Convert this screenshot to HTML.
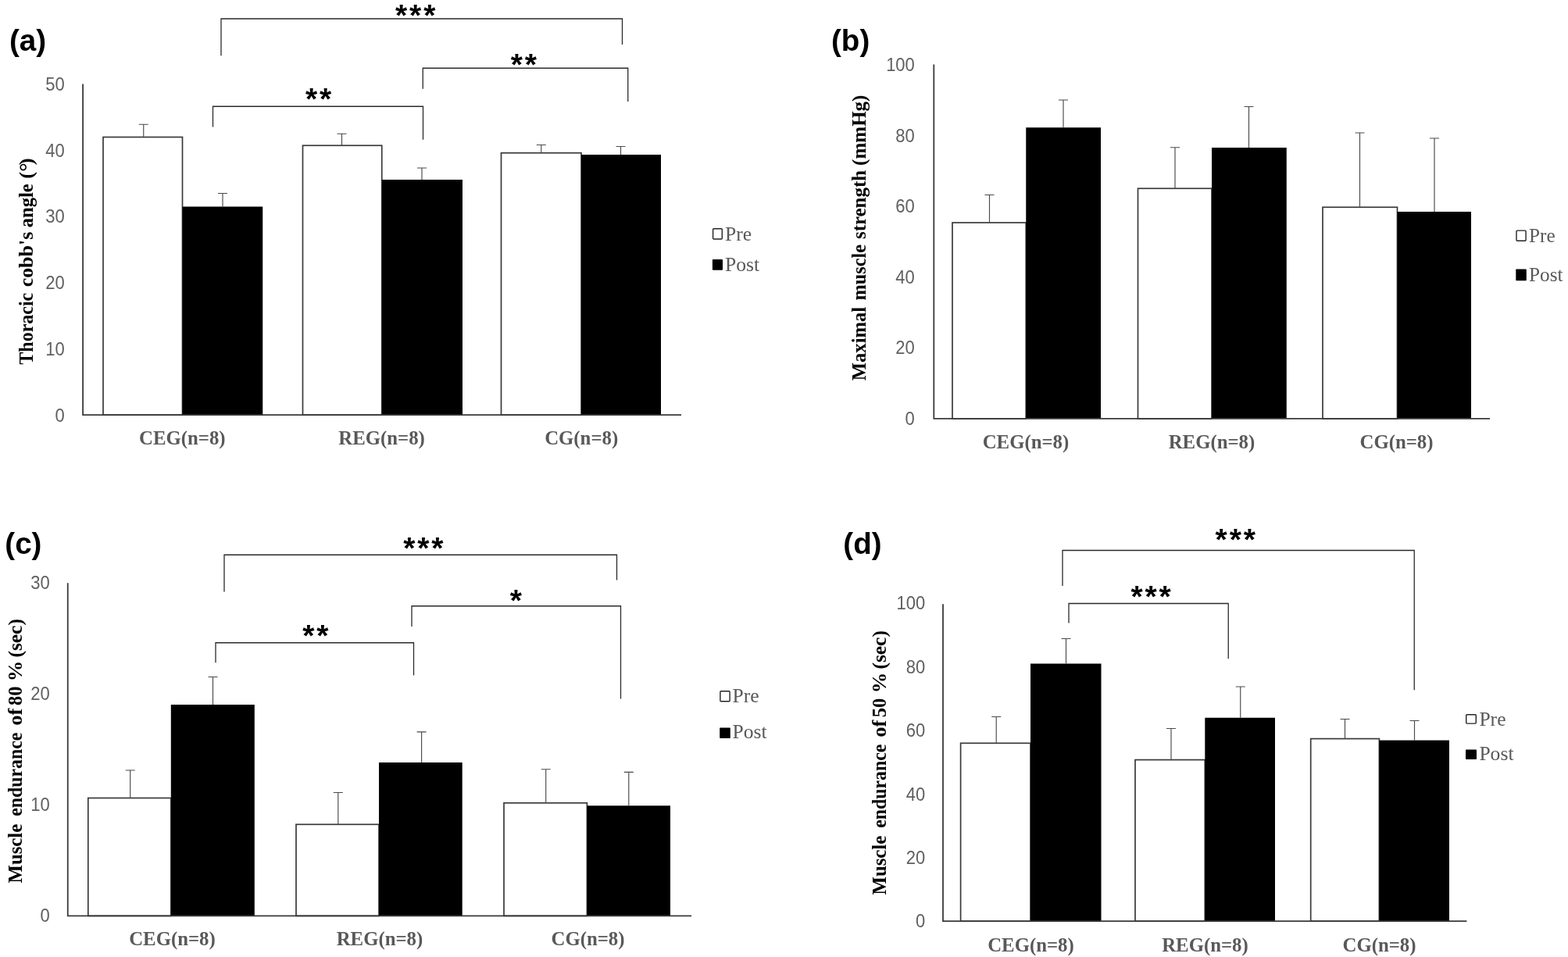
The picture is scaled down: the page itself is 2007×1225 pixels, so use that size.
<!DOCTYPE html>
<html lang="en">
<head>
<meta charset="utf-8">
<title>Figure: pre/post comparison of CEG, REG and CG groups</title>
<style>
html,body{margin:0;padding:0;background:#fff;}
body{width:2007px;height:1225px;overflow:hidden;}
svg{display:block;}
text{white-space:pre;}
.tk{font-family:"Liberation Sans",sans-serif;font-size:24.3px;fill:#606060;}
.cat{font-family:"Liberation Serif",serif;font-weight:bold;font-size:24.8px;fill:#595959;}
.yt{font-family:"Liberation Serif",serif;font-weight:bold;font-size:24.6px;fill:#000;}
.dg{font-family:"Liberation Sans",sans-serif;font-weight:normal;}
.lg{font-family:"Liberation Serif",serif;fill:#595959;}
.pl{font-family:"Liberation Sans",sans-serif;font-weight:bold;font-size:38.6px;fill:#000;}
.st{font-family:"Liberation Sans",sans-serif;font-weight:bold;font-size:39px;letter-spacing:2.9px;fill:#000;}
</style>
</head>
<body>
<svg width="2007" height="1225" viewBox="0 0 2007 1225">
<rect width="2007" height="1225" fill="#fff"/>
<g id="panel-a">
<rect x="132" y="175.5" width="101.5" height="355.7" fill="#fff" stroke="#3a3a3a" stroke-width="1.7"/>
<rect x="233.5" y="264.5" width="102.75" height="266.7" fill="#000"/>
<rect x="387.5" y="186.25" width="101.25" height="344.95" fill="#fff" stroke="#3a3a3a" stroke-width="1.7"/>
<rect x="488.75" y="230" width="103.25" height="301.2" fill="#000"/>
<rect x="641.5" y="195.75" width="102.5" height="335.45" fill="#fff" stroke="#3a3a3a" stroke-width="1.7"/>
<rect x="744" y="198" width="102" height="333.2" fill="#000"/>
<path d="M183.75 175.5V159.25M177.75 159.25H189.75" fill="none" stroke="#4a4a4a" stroke-width="1.15"/>
<path d="M285 264.5V247.5M279 247.5H291" fill="none" stroke="#4a4a4a" stroke-width="1.15"/>
<path d="M437.5 186.25V171.25M431.5 171.25H443.5" fill="none" stroke="#4a4a4a" stroke-width="1.15"/>
<path d="M540 230V215M534 215H546" fill="none" stroke="#4a4a4a" stroke-width="1.15"/>
<path d="M692.75 195.75V185.5M686.75 185.5H698.75" fill="none" stroke="#4a4a4a" stroke-width="1.15"/>
<path d="M794.5 198V187.5M788.5 187.5H800.5" fill="none" stroke="#4a4a4a" stroke-width="1.15"/>
<path d="M106.1 107.5V531.2H872" fill="none" stroke="#3a3a3a" stroke-width="1.8"/>
<text class="tk" transform="translate(82.8 115.7) scale(0.905 1)" text-anchor="end">50</text>
<text class="tk" transform="translate(82.8 200.5) scale(0.905 1)" text-anchor="end">40</text>
<text class="tk" transform="translate(82.8 285.4) scale(0.905 1)" text-anchor="end">30</text>
<text class="tk" transform="translate(82.8 370.2) scale(0.905 1)" text-anchor="end">20</text>
<text class="tk" transform="translate(82.8 455.1) scale(0.905 1)" text-anchor="end">10</text>
<text class="tk" transform="translate(82.8 539.9) scale(0.905 1)" text-anchor="end">0</text>
<text class="cat" x="233.3" y="569" text-anchor="middle">CEG(n=8)</text>
<text class="cat" x="488.6" y="569" text-anchor="middle">REG(n=8)</text>
<text class="cat" x="744.2" y="569" text-anchor="middle">CG(n=8)</text>
<text class="yt" transform="translate(42.2 0) rotate(-90)"><tspan x="-466.74" textLength="92.01" lengthAdjust="spacingAndGlyphs">Thoracic</tspan> <tspan x="-367.38" textLength="70.68" lengthAdjust="spacingAndGlyphs">cobb&#39;s</tspan> <tspan x="-291.24" textLength="56.02" lengthAdjust="spacingAndGlyphs">angle</tspan> <tspan x="-228.65" textLength="8.85" lengthAdjust="spacingAndGlyphs">(</tspan><tspan class="dg" font-size="31" x="-220.25" dy="4.5">&#176;</tspan><tspan x="-211.3" dy="-4.5" textLength="8.84" lengthAdjust="spacingAndGlyphs">)</tspan></text>
<text class="pl" x="12" y="64.6">(a)</text>
<path d="M283 71.25V24H796.5V57" fill="none" stroke="#2a2a2a" stroke-width="1.3"/>
<path d="M272.5 162.5V136.25H541.5V178.75" fill="none" stroke="#2a2a2a" stroke-width="1.3"/>
<path d="M541.25 113.75V87.25H803.75V130" fill="none" stroke="#2a2a2a" stroke-width="1.3"/>
<text class="st" x="506" y="33.3">***</text>
<text class="st" x="391" y="140.2">**</text>
<text class="st" x="653.7" y="95.7">**</text>
<rect x="912.6" y="292.8" width="11.7" height="13.2" rx="1" fill="#fff" stroke="#222" stroke-width="1.4"/>
<text class="lg" font-size="25.6" x="928" y="307.5">Pre</text>
<rect x="911.9" y="331.9" width="13.1" height="13.8" rx="0.8" fill="#000"/>
<text class="lg" font-size="25.6" x="928" y="346.8">Post</text>
</g>
<g id="panel-b">
<rect x="1219" y="285" width="94.25" height="250.9" fill="#fff" stroke="#3a3a3a" stroke-width="1.7"/>
<rect x="1313.25" y="163.25" width="95.75" height="372.65" fill="#000"/>
<rect x="1456.5" y="241.25" width="94.5" height="294.65" fill="#fff" stroke="#3a3a3a" stroke-width="1.7"/>
<rect x="1551" y="189" width="95.75" height="346.9" fill="#000"/>
<rect x="1693" y="265.25" width="95.5" height="270.65" fill="#fff" stroke="#3a3a3a" stroke-width="1.7"/>
<rect x="1788.5" y="271" width="94.5" height="264.9" fill="#000"/>
<path d="M1266.5 285V249.5M1260.5 249.5H1272.5" fill="none" stroke="#4a4a4a" stroke-width="1.15"/>
<path d="M1361 163.25V128M1355 128H1367" fill="none" stroke="#4a4a4a" stroke-width="1.15"/>
<path d="M1504 241.25V188.75M1498 188.75H1510" fill="none" stroke="#4a4a4a" stroke-width="1.15"/>
<path d="M1598.5 189V136.5M1592.5 136.5H1604.5" fill="none" stroke="#4a4a4a" stroke-width="1.15"/>
<path d="M1740.5 265.25V170M1734.5 170H1746.5" fill="none" stroke="#4a4a4a" stroke-width="1.15"/>
<path d="M1836 271V177M1830 177H1842" fill="none" stroke="#4a4a4a" stroke-width="1.15"/>
<path d="M1195.3 82.5V535.9H1907" fill="none" stroke="#3a3a3a" stroke-width="1.8"/>
<text class="tk" transform="translate(1170.8 90.9) scale(0.905 1)" text-anchor="end">100</text>
<text class="tk" transform="translate(1170.8 181.5) scale(0.905 1)" text-anchor="end">80</text>
<text class="tk" transform="translate(1170.8 272.1) scale(0.905 1)" text-anchor="end">60</text>
<text class="tk" transform="translate(1170.8 362.7) scale(0.905 1)" text-anchor="end">40</text>
<text class="tk" transform="translate(1170.8 453.3) scale(0.905 1)" text-anchor="end">20</text>
<text class="tk" transform="translate(1170.8 543.9) scale(0.905 1)" text-anchor="end">0</text>
<text class="cat" x="1313" y="574" text-anchor="middle">CEG(n=8)</text>
<text class="cat" x="1551" y="574" text-anchor="middle">REG(n=8)</text>
<text class="cat" x="1787.5" y="574" text-anchor="middle">CG(n=8)</text>
<text class="yt" transform="translate(1107.5 0) rotate(-90)"><tspan x="-487.15" textLength="94.24" lengthAdjust="spacingAndGlyphs">Maximal</tspan> <tspan x="-384.39" textLength="71.46" lengthAdjust="spacingAndGlyphs">muscle</tspan> <tspan x="-306.05" textLength="88.1" lengthAdjust="spacingAndGlyphs">strength</tspan> <tspan x="-211.9" textLength="90.33" lengthAdjust="spacingAndGlyphs">(mmHg)</tspan></text>
<text class="pl" x="1064" y="64.6">(b)</text>
<rect x="1941" y="295.1" width="12.1" height="13.2" rx="1" fill="#fff" stroke="#222" stroke-width="1.4"/>
<text class="lg" font-size="25.3" x="1957" y="309.8">Pre</text>
<rect x="1940.3" y="344.5" width="13.5" height="14.7" rx="0.8" fill="#000"/>
<text class="lg" font-size="25.3" x="1957" y="359.5">Post</text>
</g>
<g id="panel-c">
<rect x="112.8" y="1021.5" width="106" height="150.9" fill="#fff" stroke="#3a3a3a" stroke-width="1.7"/>
<rect x="218.8" y="902" width="107" height="270.4" fill="#000"/>
<rect x="379" y="1055.3" width="106" height="117.1" fill="#fff" stroke="#3a3a3a" stroke-width="1.7"/>
<rect x="485" y="976" width="106.7" height="196.4" fill="#000"/>
<rect x="645" y="1027.8" width="106.4" height="144.6" fill="#fff" stroke="#3a3a3a" stroke-width="1.7"/>
<rect x="751.4" y="1031.3" width="106.6" height="141.1" fill="#000"/>
<path d="M166.7 1021.5V986M160.7 986H172.7" fill="none" stroke="#4a4a4a" stroke-width="1.15"/>
<path d="M272.5 902V866.5M266.5 866.5H278.5" fill="none" stroke="#4a4a4a" stroke-width="1.15"/>
<path d="M432.8 1055.3V1014.5M426.8 1014.5H438.8" fill="none" stroke="#4a4a4a" stroke-width="1.15"/>
<path d="M539.6 976V936.8M533.6 936.8H545.6" fill="none" stroke="#4a4a4a" stroke-width="1.15"/>
<path d="M698.7 1027.8V984.7M692.7 984.7H704.7" fill="none" stroke="#4a4a4a" stroke-width="1.15"/>
<path d="M804.8 1031.3V988.4M798.8 988.4H810.8" fill="none" stroke="#4a4a4a" stroke-width="1.15"/>
<path d="M86.75 746.25V1172.4H885" fill="none" stroke="#3a3a3a" stroke-width="1.8"/>
<text class="tk" transform="translate(63.8 754.4) scale(0.905 1)" text-anchor="end">30</text>
<text class="tk" transform="translate(63.8 896.3) scale(0.905 1)" text-anchor="end">20</text>
<text class="tk" transform="translate(63.8 1038.1) scale(0.905 1)" text-anchor="end">10</text>
<text class="tk" transform="translate(63.8 1180) scale(0.905 1)" text-anchor="end">0</text>
<text class="cat" x="220.5" y="1210" text-anchor="middle">CEG(n=8)</text>
<text class="cat" x="486" y="1210" text-anchor="middle">REG(n=8)</text>
<text class="cat" x="752.5" y="1210" text-anchor="middle">CG(n=8)</text>
<text class="yt" transform="translate(28 0) rotate(-90)"><tspan x="-1130.55" textLength="75.84" lengthAdjust="spacingAndGlyphs">Muscle</tspan> <tspan x="-1044.81" textLength="107.08" lengthAdjust="spacingAndGlyphs">endurance</tspan> <tspan x="-928.74" textLength="22.13" lengthAdjust="spacingAndGlyphs">of</tspan> <tspan x="-903.03" textLength="24.36" lengthAdjust="spacingAndGlyphs">80</tspan> <tspan x="-872.17" textLength="26.57" lengthAdjust="spacingAndGlyphs">%</tspan> <tspan x="-841.62" textLength="49.52" lengthAdjust="spacingAndGlyphs">(sec)</tspan></text>
<text class="pl" x="6.3" y="709">(c)</text>
<path d="M287 757.5V710.25H789.5V742.5" fill="none" stroke="#2a2a2a" stroke-width="1.3"/>
<path d="M276 848.25V822.75H529.5V864.5" fill="none" stroke="#2a2a2a" stroke-width="1.3"/>
<path d="M527 802V775.75H794.5V894.5" fill="none" stroke="#2a2a2a" stroke-width="1.3"/>
<text class="st" x="516.2" y="714.9">***</text>
<text class="st" x="387.2" y="826.8">**</text>
<text class="st" x="652.7" y="782">*</text>
<rect x="921.9" y="884.7" width="12.2" height="13" rx="1" fill="#fff" stroke="#222" stroke-width="1.4"/>
<text class="lg" font-size="25.6" x="937.6" y="899.3">Pre</text>
<rect x="921.2" y="931.6" width="13.6" height="13.4" rx="0.8" fill="#000"/>
<text class="lg" font-size="25.6" x="937.6" y="945.4">Post</text>
</g>
<g id="panel-d">
<rect x="1229.6" y="951.3" width="89.4" height="227.9" fill="#fff" stroke="#3a3a3a" stroke-width="1.7"/>
<rect x="1319" y="849.5" width="90.5" height="329.7" fill="#000"/>
<rect x="1453" y="972.6" width="89.3" height="206.6" fill="#fff" stroke="#3a3a3a" stroke-width="1.7"/>
<rect x="1542.3" y="918.75" width="89.7" height="260.45" fill="#000"/>
<rect x="1677.7" y="945.6" width="87.7" height="233.6" fill="#fff" stroke="#3a3a3a" stroke-width="1.7"/>
<rect x="1765.4" y="947.6" width="89.6" height="231.6" fill="#000"/>
<path d="M1275.2 951.3V917.5M1269.2 917.5H1281.2" fill="none" stroke="#4a4a4a" stroke-width="1.15"/>
<path d="M1364.5 849.5V817.5M1358.5 817.5H1370.5" fill="none" stroke="#4a4a4a" stroke-width="1.15"/>
<path d="M1499 972.6V932.5M1493 932.5H1505" fill="none" stroke="#4a4a4a" stroke-width="1.15"/>
<path d="M1587.75 918.75V879M1581.75 879H1593.75" fill="none" stroke="#4a4a4a" stroke-width="1.15"/>
<path d="M1721.5 945.6V920.5M1715.5 920.5H1727.5" fill="none" stroke="#4a4a4a" stroke-width="1.15"/>
<path d="M1810.5 947.6V922.5M1804.5 922.5H1816.5" fill="none" stroke="#4a4a4a" stroke-width="1.15"/>
<path d="M1207 773.25V1179.2H1877.4" fill="none" stroke="#3a3a3a" stroke-width="1.8"/>
<text class="tk" transform="translate(1184.2 780.3) scale(0.905 1)" text-anchor="end">100</text>
<text class="tk" transform="translate(1184.2 861.7) scale(0.905 1)" text-anchor="end">80</text>
<text class="tk" transform="translate(1184.2 943.1) scale(0.905 1)" text-anchor="end">60</text>
<text class="tk" transform="translate(1184.2 1024.5) scale(0.905 1)" text-anchor="end">40</text>
<text class="tk" transform="translate(1184.2 1105.9) scale(0.905 1)" text-anchor="end">20</text>
<text class="tk" transform="translate(1184.2 1187.3) scale(0.905 1)" text-anchor="end">0</text>
<text class="cat" x="1319.5" y="1218" text-anchor="middle">CEG(n=8)</text>
<text class="cat" x="1542.5" y="1218" text-anchor="middle">REG(n=8)</text>
<text class="cat" x="1765.5" y="1218" text-anchor="middle">CG(n=8)</text>
<text class="yt" transform="translate(1134.4 0) rotate(-90)"><tspan x="-1145.55" textLength="75.84" lengthAdjust="spacingAndGlyphs">Muscle</tspan> <tspan x="-1059.81" textLength="107.08" lengthAdjust="spacingAndGlyphs">endurance</tspan> <tspan x="-943.74" textLength="22.13" lengthAdjust="spacingAndGlyphs">of</tspan> <tspan x="-918.28" textLength="24.62" lengthAdjust="spacingAndGlyphs">50</tspan> <tspan x="-887.17" textLength="26.57" lengthAdjust="spacingAndGlyphs">%</tspan> <tspan x="-856.62" textLength="49.52" lengthAdjust="spacingAndGlyphs">(sec)</tspan></text>
<text class="pl" x="1079.3" y="709">(d)</text>
<path d="M1360 750V704.5H1810.25V883.25" fill="none" stroke="#2a2a2a" stroke-width="1.3"/>
<path d="M1368 797.5V772.5H1572.25V843.25" fill="none" stroke="#2a2a2a" stroke-width="1.3"/>
<text class="st" x="1555.6" y="704.4">***</text>
<text class="st" x="1447.4" y="776.6">***</text>
<rect x="1876.7" y="914.7" width="12.6" height="11.4" rx="1" fill="#fff" stroke="#222" stroke-width="1.4"/>
<text class="lg" font-size="25.6" x="1893.4" y="929">Pre</text>
<rect x="1876" y="959.4" width="14" height="12.6" rx="0.8" fill="#000"/>
<text class="lg" font-size="25.6" x="1893.4" y="973.2">Post</text>
</g>
</svg>
</body>
</html>
